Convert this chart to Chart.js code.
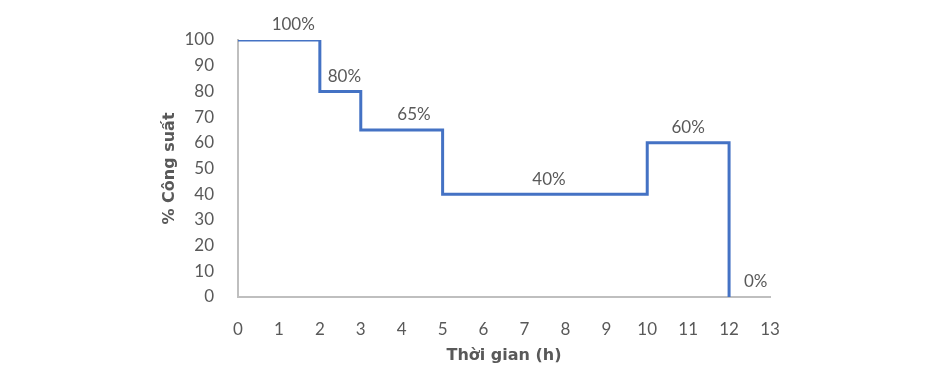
<!DOCTYPE html>
<html>
<head>
<meta charset="utf-8">
<script src="https://cdn.jsdelivr.net/npm/chart.js@4"></script>
<style>
  html, body { margin: 0; padding: 0; background: #fff; }
  #wrap { width: 950px; height: 382px; }
</style>
</head>
<body>
<div id="wrap"><canvas id="congSuatChart" width="950" height="382"></canvas></div>
<script>
// Thoi gian (h) va % cong suat tai moi moc
const times = [0, 2, 3, 5, 10, 12];
const power = [100, 80, 65, 40, 60, 0];
// Vi tri nhan tren truc thoi gian
const labelTimes = [1.35, 2.6, 4.3, 7.6, 11, 12.65];
const labelTexts = ['100%', '80%', '65%', '40%', '60%', '0%'];
const xTicks = [0, 1, 2, 3, 4, 5, 6, 7, 8, 9, 10, 11, 12, 13];

const grey = '#595959';
const fontFamily = 'Lato, "Open Sans", sans-serif';
const titleFamily = '"DejaVu Sans", sans-serif';

// ve nhan phan tram phia tren duong
const nhanPlugin = {
  id: 'nhan',
  afterDatasetsDraw(chart) {
    const c = chart.ctx;
    const xs = chart.scales.x, ys = chart.scales.y;
    c.save();
    c.font = '17px ' + fontFamily;
    c.fillStyle = grey;
    c.textAlign = 'center';
    c.textBaseline = 'middle';
    labelTexts.forEach((t, i) => {
      c.fillText(t, xs.getPixelForValue(labelTimes[i]), ys.getPixelForValue(power[i]) - 15);
    });
    c.restore();
  }
};

const ctx = document.getElementById('congSuatChart').getContext('2d');
new Chart(ctx, {
  type: 'line',
  data: {
    datasets: [{
      data: times.map((t, i) => ({ x: t, y: power[i] })),
      borderColor: '#4472C4',
      borderWidth: 3,
      stepped: 'before',
      pointRadius: 0,
      fill: false
    }]
  },
  options: {
    responsive: false,
    animation: false,
    layout: { padding: { left: 160, right: 180, top: 40, bottom: 0 } },
    plugins: { legend: { display: false }, tooltip: { enabled: false } },
    scales: {
      x: {
        type: 'linear',
        min: 0, max: 13,
        afterBuildTicks: s => { s.ticks = xTicks.map(v => ({ value: v })); },
        afterFit: s => { s.height = 85; },
        grid: { display: false },
        border: { display: true, color: '#BFBFBF', width: 2 },
        ticks: { color: grey, font: { family: fontFamily, size: 17 }, padding: 14, maxRotation: 0 },
        title: {
          display: true, text: 'Thời gian (h)', color: grey,
          font: { family: titleFamily, size: 16, weight: 'bold' },
          padding: { top: 0, bottom: 17 }
        }
      },
      y: {
        min: 0, max: 100,
        afterFit: s => { s.width = 78; },
        grid: { display: false },
        border: { display: true, color: '#BFBFBF', width: 2 },
        ticks: { stepSize: 10, color: grey, font: { family: fontFamily, size: 17 }, padding: 16 },
        title: {
          display: true, text: '% Công suất', color: grey,
          font: { family: titleFamily, size: 16, weight: 'bold' },
          padding: { top: 0, bottom: 0 }
        }
      }
    }
  },
  plugins: [nhanPlugin]
});
</script>
</body>
</html>
